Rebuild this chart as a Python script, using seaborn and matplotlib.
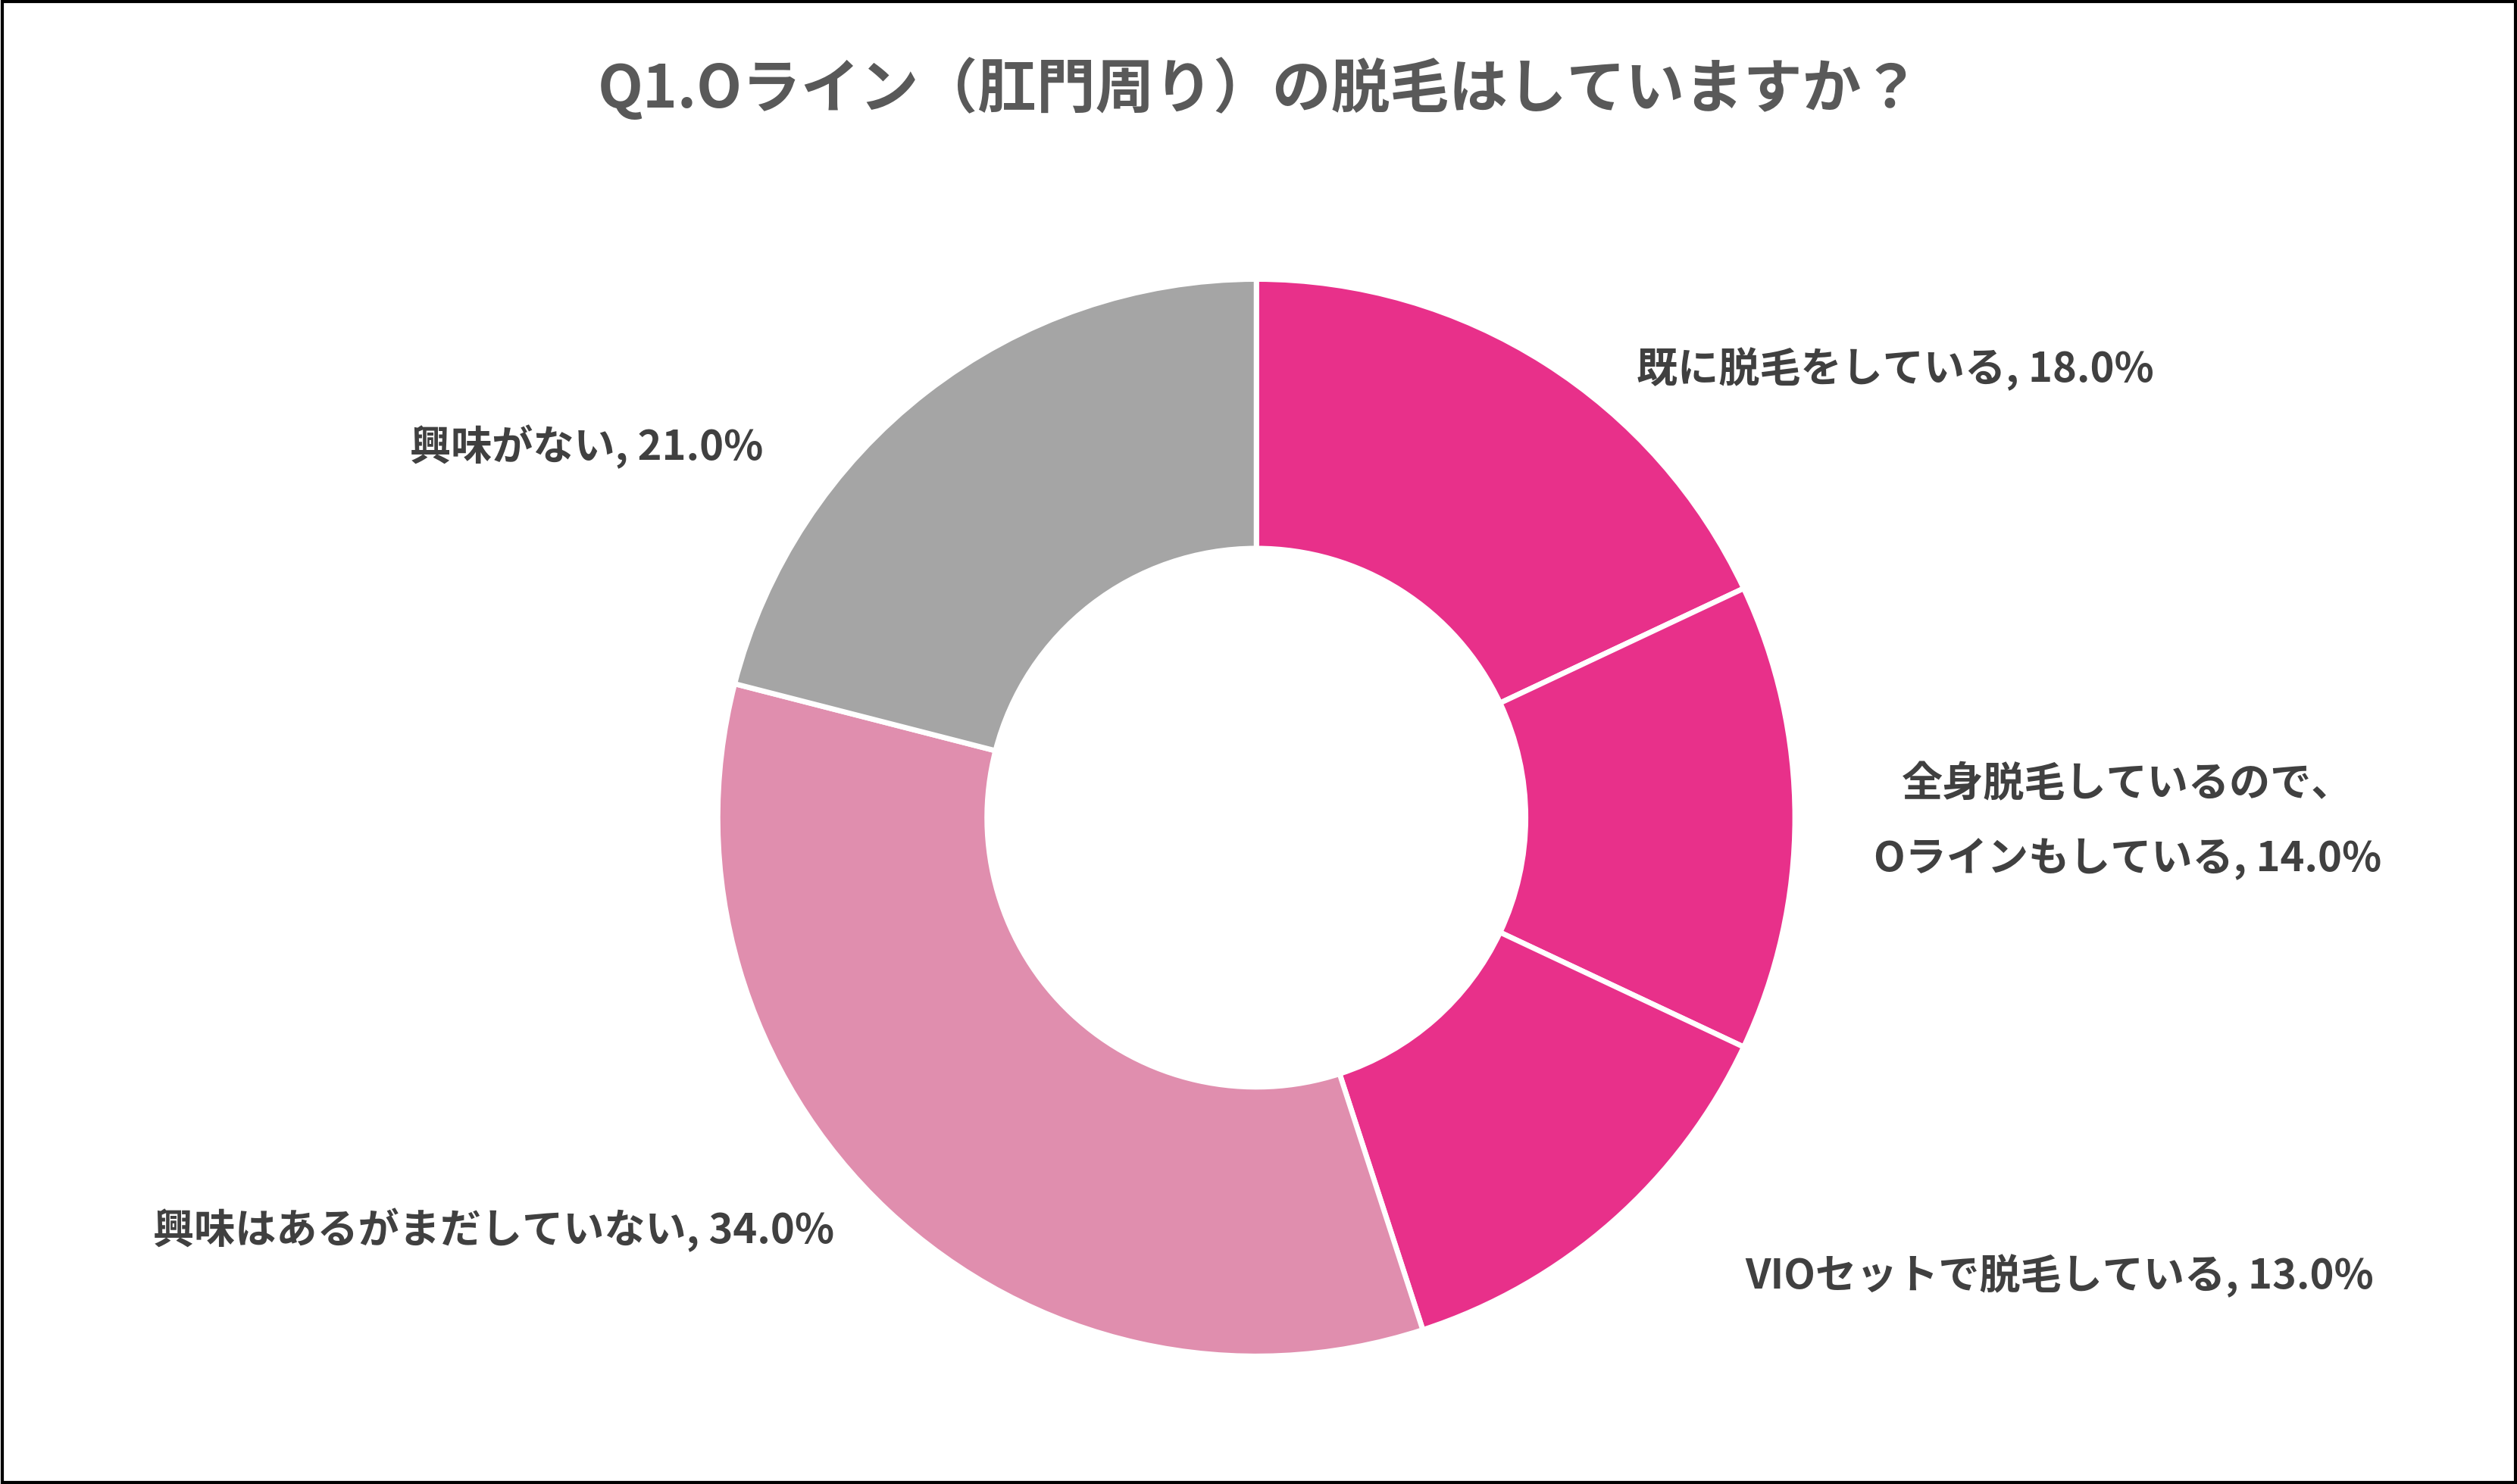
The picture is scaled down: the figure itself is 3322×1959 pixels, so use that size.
import matplotlib
matplotlib.use("Agg")
import matplotlib.pyplot as plt
import seaborn as sns
from matplotlib.patches import Rectangle

sns.set_theme(style="white")
plt.rcParams['font.family'] = ['Noto Sans CJK JP', 'DejaVu Sans']

title = "Q1.Oライン（肛門周り）の脱毛はしていますか？"
labels = ["既に脱毛をしている", "全身脱毛しているので、\nOラインもしている", "VIOセットで脱毛している",
          "興味はあるがまだしていない", "興味がない"]
values = [18.0, 14.0, 13.0, 34.0, 21.0]
colors = ["#E8308A", "#E8308A", "#E8308A", "#E08EAE", "#A5A5A5"]

# label anchor points in figure fraction (x, y, ha)
label_pos = [(0.650, 0.751, "left"), (0.845, 0.446, "center"), (0.818, 0.140, "center"),
             (0.196, 0.171, "center"), (0.233, 0.699, "center")]

fig = plt.figure(figsize=(33.23, 19.59), dpi=100)
ax = fig.add_axes([0.284, 0.084, 0.430, 0.730])
ax.pie(values, colors=colors, startangle=90, counterclock=False,
       wedgeprops=dict(width=0.5, edgecolor="white", linewidth=5))
ax.set_xlim(-1.005, 1.005)
ax.set_ylim(-1.005, 1.005)
ax.set_aspect("equal")

for lab, v, (x, y, ha) in zip(labels, values, label_pos):
    fig.text(x, y, f"{lab}, {v:.1f}%", ha=ha, va="center", fontsize=39,
             fontweight="bold", color="#404040", linespacing=2.0)

fig.text(0.5, 0.94, title, ha="center", va="center", fontsize=56,
         fontweight="bold", color="#595959")
fig.patches.append(Rectangle((0.001, 0.001), 0.998, 0.998, transform=fig.transFigure,
                             fill=False, edgecolor="black", linewidth=3))
fig.savefig("out.png", dpi=100, facecolor="white")
